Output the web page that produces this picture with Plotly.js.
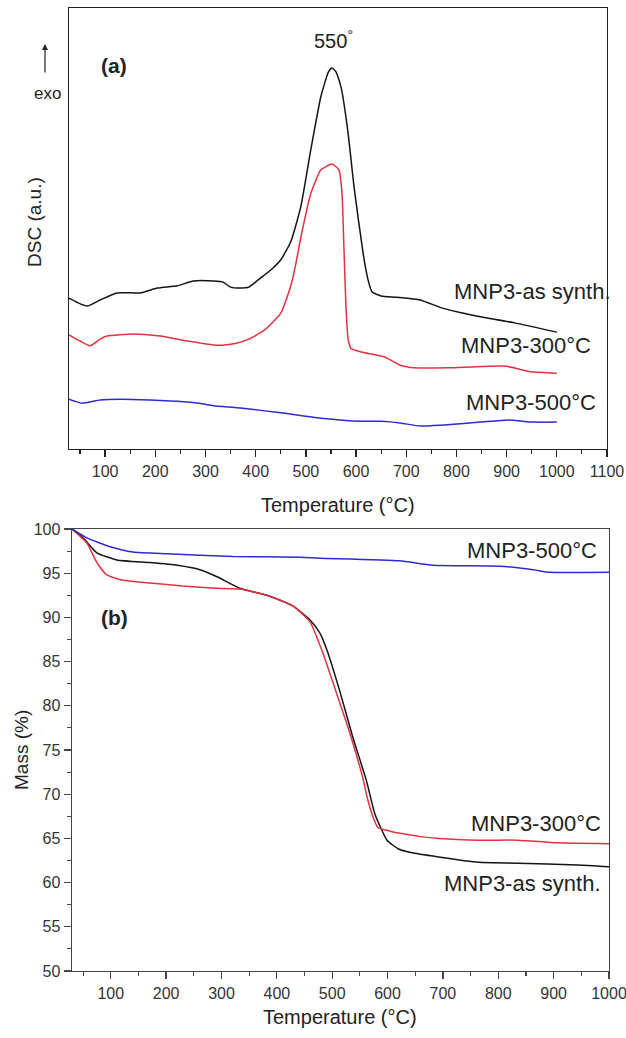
<!DOCTYPE html>
<html>
<head>
<meta charset="utf-8">
<script src="https://cdn.plot.ly/plotly-3.0.1.min.js"></script>
<style>
  html, body { margin: 0; padding: 0; background: #fff; }
  #chart { width: 626px; height: 1038px; }
</style>
</head>
<body>
<div id="chart"></div>
<script>
// (a) DSC curves, arbitrary units
const dscTempAs = [28, 45, 64, 90, 124, 170, 204, 244, 276, 316, 334, 350, 370, 386, 410, 434, 450, 470, 490, 510, 530, 545, 552, 560, 570, 584, 596, 614, 624, 632, 650, 680, 728, 770, 830, 916, 1000];
const dscAs     = [34.2, 33.2, 32.4, 33.8, 35.4, 35.4, 36.5, 37.0, 38.1, 38.1, 37.9, 36.7, 36.5, 36.7, 38.8, 41.0, 42.9, 47.0, 55.0, 68.0, 80.0, 85.5, 86.4, 85.5, 82.1, 71.7, 59.4, 44.4, 38.3, 35.6, 34.7, 34.4, 33.8, 32.0, 30.4, 28.6, 26.5];

const dscTemp300 = [28, 50, 70, 90, 104, 156, 210, 264, 316, 338, 362, 386, 418, 450, 470, 480, 490, 510, 530, 552, 566, 572, 576, 580, 584, 590, 610, 656, 688, 716, 784, 896, 950, 1000];
const dsc300     = [25.9, 24.5, 23.4, 24.9, 25.6, 26.1, 25.6, 24.5, 23.6, 23.6, 24.0, 24.9, 27.0, 30.8, 37.0, 42.0, 48.0, 58.0, 63.3, 64.6, 63.3, 58.0, 45.0, 32.0, 25.0, 22.8, 22.0, 20.9, 19.0, 18.4, 18.4, 18.8, 17.5, 17.2];

const dscTemp500 = [28, 54, 90, 130, 190, 256, 290, 316, 370, 450, 530, 610, 650, 688, 728, 768, 848, 904, 952, 1000];
const dsc500     = [11.3, 10.4, 11.1, 11.3, 11.1, 10.7, 10.3, 9.8, 9.3, 8.2, 7.0, 6.3, 6.3, 5.9, 5.2, 5.4, 6.1, 6.6, 6.1, 6.1];

// (b) TGA curves, mass %
const tgaTempAs = [30, 50, 75, 111, 171, 220, 261, 292, 333, 382, 429, 460, 478, 490, 514, 537, 562, 577, 599, 620, 642, 692, 765, 835, 943, 1000];
const tgaAs     = [100, 99.0, 97.3, 96.5, 96.2, 95.9, 95.4, 94.6, 93.3, 92.5, 91.3, 89.7, 88.2, 86.4, 81.6, 76.5, 71.5, 67.8, 64.8, 63.8, 63.4, 62.9, 62.3, 62.2, 62.0, 61.8];

const tgaTemp300 = [30, 57, 75, 93, 122, 171, 230, 292, 333, 382, 429, 460, 483, 508, 532, 555, 565, 575, 583, 600, 620, 660, 692, 765, 835, 907, 1000];
const tga300     = [100, 98.4, 96.2, 94.8, 94.2, 93.9, 93.55, 93.3, 93.2, 92.5, 91.3, 89.5, 86.0, 81.4, 76.9, 71.9, 69.2, 67.2, 66.2, 65.9, 65.6, 65.2, 65.0, 64.8, 64.8, 64.5, 64.4];

const tgaTemp500 = [30, 57, 99, 140, 201, 321, 442, 478, 622, 682, 803, 863, 893, 1000];
const tga500     = [100, 99.0, 98.0, 97.4, 97.2, 96.9, 96.8, 96.7, 96.4, 95.9, 95.8, 95.4, 95.1, 95.1];

const xTicksA = [100, 200, 300, 400, 500, 600, 700, 800, 900, 1000, 1100];
const xTicksB = [100, 200, 300, 400, 500, 600, 700, 800, 900, 1000];
const yTicksB = [50, 55, 60, 65, 70, 75, 80, 85, 90, 95, 100];

const BLACK = '#141414', RED = '#e2323f', BLUE = '#2b2bd0';
const FONT = 'Liberation Sans, Arial, Helvetica, sans-serif';
const W = 626, H = 1038;
const px = v => v / W, py = v => 1 - v / H;

function line(x, y, color, xa, ya) {
  return { x, y, type: 'scatter', mode: 'lines', xaxis: xa, yaxis: ya,
           line: { color, width: 1.5, shape: 'spline', smoothing: 0.5 },
           hoverinfo: 'skip', showlegend: false };
}

const traces = [
  line(dscTempAs, dscAs, BLACK, 'x', 'y'),
  line(dscTemp300, dsc300, RED, 'x', 'y'),
  line(dscTemp500, dsc500, BLUE, 'x', 'y'),
  line(tgaTempAs, tgaAs, BLACK, 'x2', 'y2'),
  line(tgaTemp300, tga300, RED, 'x2', 'y2'),
  line(tgaTemp500, tga500, BLUE, 'x2', 'y2')
];

const frame = { showline: true, linecolor: '#222', linewidth: 1.4, mirror: true,
                showgrid: false, zeroline: false, fixedrange: true };
const tickFont = { family: FONT, size: 16, color: '#333' };

// text placed in page pixels (centre unless an anchor is given)
function label(text, x, y, extra) {
  return Object.assign({ text, x: px(x), y: py(y), xref: 'paper', yref: 'paper',
    xanchor: 'center', yanchor: 'middle', showarrow: false,
    font: { family: FONT, size: 22, color: '#222' } }, extra || {});
}
const f = size => ({ family: FONT, size, color: '#222' });

const layout = {
  width: W, height: H,
  margin: { l: 0, r: 0, t: 0, b: 0 },
  paper_bgcolor: '#fff', plot_bgcolor: '#fff',
  showlegend: false,
  xaxis: Object.assign({}, frame, {
    domain: [px(69), px(607)], anchor: 'y', range: [28, 1100],
    tickmode: 'array', tickvals: xTicksA, ticktext: xTicksA.map(String),
    ticklabeloverflow: 'allow',
    ticks: 'outside', ticklen: 7, tickwidth: 1.3, tickcolor: '#222', tickfont: tickFont,
    minor: { tickmode: 'linear', tick0: 0, dtick: 50, ticks: 'outside', ticklen: 4, tickwidth: 1.1, tickcolor: '#222' }
  }),
  yaxis: Object.assign({}, frame, {
    domain: [py(449), py(8)], anchor: 'x', range: [0, 100],
    showticklabels: false, ticks: ''
  }),
  xaxis2: Object.assign({}, frame, {
    domain: [px(72), px(609)], anchor: 'y2', range: [30, 1000],
    linecolor: '#444',
    tickmode: 'array', tickvals: xTicksB, ticktext: xTicksB.map(String),
    ticklabeloverflow: 'allow',
    ticks: 'outside', ticklen: 7, tickwidth: 1.3, tickcolor: '#444', tickfont: tickFont,
    minor: { tickmode: 'linear', tick0: 0, dtick: 50, ticks: 'outside', ticklen: 4, tickwidth: 1.1, tickcolor: '#444' }
  }),
  yaxis2: Object.assign({}, frame, {
    domain: [py(971), py(529)], anchor: 'x2', range: [50, 100],
    linecolor: '#444',
    tickmode: 'array', tickvals: yTicksB, ticktext: yTicksB.map(String),
    ticklabeloverflow: 'allow',
    ticks: 'outside', ticklen: 7, tickwidth: 1.3, tickcolor: '#444', tickfont: tickFont,
    minor: { tickmode: 'linear', tick0: 0, dtick: 2.5, ticks: 'outside', ticklen: 4, tickwidth: 1.1, tickcolor: '#444' }
  }),
  annotations: [
    // panel (a)
    label('550<sup>°</sup>', 333, 39, { font: f(20) }),
    label('<b>(a)</b>', 114, 65, { font: f(21) }),
    label('MNP3-as synth.', 613, 291, { xanchor: 'right' }),
    label('MNP3-300°C', 593, 346, { xanchor: 'right' }),
    label('MNP3-500°C', 598, 402, { xanchor: 'right' }),
    label('exo', 47, 93, { font: f(17) }),
    { text: '', xref: 'paper', yref: 'paper', x: px(45), y: py(44), ax: 0, ay: 30,
      showarrow: true, arrowhead: 2, arrowsize: 1, arrowwidth: 1.2, arrowcolor: '#222' },
    label('DSC (a.u.)', 35, 222, { textangle: -90, font: f(19) }),
    label('Temperature (°C)', 338, 505, { font: f(20) }),
    // panel (b)
    label('MNP3-500°C', 599, 550, { xanchor: 'right' }),
    label('<b>(b)</b>', 114, 617, { font: f(21) }),
    label('MNP3-300°C', 603, 823, { xanchor: 'right' }),
    label('MNP3-as synth.', 603, 883, { xanchor: 'right' }),
    label('Mass (%)', 21, 750, { textangle: -90, font: f(19) }),
    label('Temperature (°C)', 340, 1017, { font: f(20) })
  ]
};

Plotly.newPlot('chart', traces, layout, { staticPlot: true, displayModeBar: false });
</script>
</body>
</html>
